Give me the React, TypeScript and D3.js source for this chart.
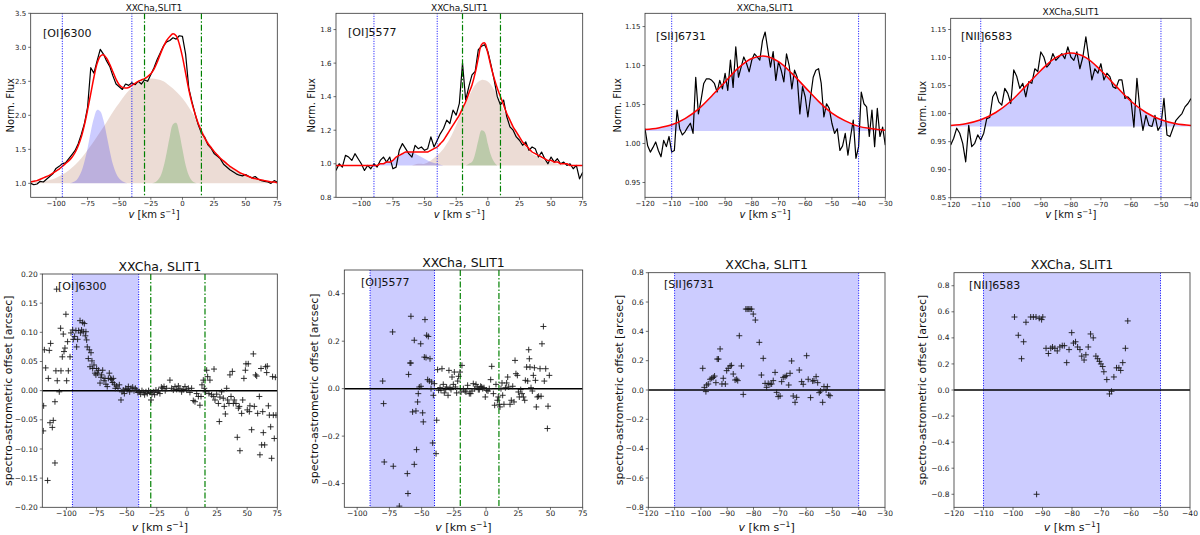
import * as d3 from "d3";

// ---------- top row: line profiles (normalised flux) ----------
const oi6300Vel = d3.range(-120, 75.01, 2.5);
const oi6300Flux = [
  1.0, 0.98, 0.99, 1.03, 1.02, 1.06, 1.1, 1.14, 1.22, 1.25,
  1.29, 1.3, 1.36, 1.42, 1.48, 1.58, 1.72, 1.88, 2.12, 2.7,
  2.62, 2.8, 2.97, 2.9, 2.8, 2.72, 2.58, 2.46, 2.42, 2.38,
  2.46, 2.44, 2.48, 2.45, 2.5, 2.46, 2.52, 2.5, 2.6, 2.7,
  2.82, 2.92, 3.02, 3.08, 3.1, 3.14, 3.12, 3.17, 3.16, 2.9,
  2.4, 2.2, 2.02, 1.86, 1.74, 1.68, 1.57, 1.52, 1.44, 1.4,
  1.36, 1.28, 1.24, 1.2, 1.17, 1.14, 1.12, 1.11, 1.13, 1.1,
  1.08, 1.1, 1.06, 1.04, 1.03, 1.02, 1.0, 1.04, 1.02,
];
const oi6300Fit = [
  1.02, 1.03, 1.04, 1.06, 1.08, 1.1, 1.12, 1.15, 1.18, 1.21,
  1.25, 1.29, 1.33, 1.38, 1.45, 1.55, 1.68, 1.86, 2.08, 2.32,
  2.56, 2.76, 2.87, 2.89, 2.84, 2.75, 2.64, 2.53, 2.45, 2.41,
  2.4, 2.41, 2.44, 2.47, 2.5, 2.52, 2.54, 2.57, 2.61, 2.68,
  2.78, 2.9, 3.01, 3.1, 3.16, 3.2, 3.17, 3.05, 2.86, 2.62,
  2.38, 2.18, 2.02, 1.88, 1.77, 1.67, 1.59, 1.53, 1.47, 1.42,
  1.37, 1.33, 1.29, 1.25, 1.22, 1.19, 1.16, 1.14, 1.12, 1.1,
  1.08, 1.07, 1.06, 1.05, 1.04, 1.03, 1.02, 1.02, 1.01,
];
const oi6300BroadVel = d3.range(-120, 75.01, 5);
const oi6300Broad = [
  1.01, 1.02, 1.03, 1.05, 1.08, 1.13, 1.19, 1.27, 1.37, 1.49,
  1.62, 1.76, 1.9, 2.05, 2.18, 2.31, 2.41, 2.48, 2.52, 2.54,
  2.53, 2.5, 2.43, 2.35, 2.25, 2.12, 1.97, 1.8, 1.63, 1.48,
  1.37, 1.29, 1.22, 1.17, 1.12, 1.09, 1.06, 1.04, 1.02, 1.01,
];
const oi6300BlueVel = d3.range(-90, -42.49, 2.5);
const oi6300Blue = [
  1.0, 1.01, 1.03, 1.08, 1.17, 1.32, 1.52, 1.76, 1.96, 2.08,
  2.06, 1.93, 1.71, 1.48, 1.28, 1.15, 1.07, 1.03, 1.01, 1.0,
];
const oi6300GreenVel = d3.range(-25, 15.01, 2.5);
const oi6300Green = [1.0, 1.01, 1.04, 1.1, 1.24, 1.45, 1.69, 1.87, 1.89, 1.74, 1.5, 1.27, 1.12, 1.04, 1.01, 1.0, 1.0];

const oi5577Vel = d3.range(-120, 75.01, 2.5);
const oi5577Flux = [
  0.96, 1.0, 0.98, 1.05, 1.04, 1.02, 1.06, 1.03, 1.0, 0.96,
  0.99, 0.97, 1.0, 0.98, 1.02, 1.04, 1.01, 1.04, 0.97, 0.98,
  1.08, 1.12, 1.09, 1.06, 1.04, 1.11, 1.09, 1.1, 1.08, 1.09,
  1.16, 1.1, 1.14, 1.18, 1.21, 1.26, 1.24, 1.32, 1.29, 1.36,
  1.6, 1.38, 1.46, 1.53, 1.55, 1.68, 1.7, 1.71, 1.67, 1.59,
  1.5, 1.4, 1.35, 1.38, 1.28, 1.22, 1.2, 1.16, 1.14, 1.11,
  1.13, 1.08, 1.1, 1.09, 1.04, 1.07, 1.03, 1.0, 1.04, 1.01,
  1.03, 1.0, 1.01, 0.99, 1.0, 0.97, 0.99, 0.91, 0.95,
];
const oi5577Fit = [
  0.99, 0.99, 0.99, 0.99, 0.99, 0.99, 0.99, 0.99, 0.99, 0.99,
  0.99, 0.99, 0.99, 0.99, 1.0, 1.0, 1.01, 1.01, 1.02, 1.04,
  1.05, 1.06, 1.07, 1.07, 1.07, 1.07, 1.07, 1.07, 1.07, 1.07,
  1.08, 1.09, 1.1, 1.12, 1.14, 1.17, 1.2, 1.23, 1.26, 1.29,
  1.33, 1.37, 1.42, 1.47, 1.54, 1.63, 1.71, 1.72, 1.66, 1.58,
  1.51, 1.45, 1.4, 1.35, 1.3, 1.26, 1.22, 1.19, 1.16, 1.13,
  1.11, 1.09, 1.07, 1.06, 1.05, 1.04, 1.03, 1.02, 1.02, 1.01,
  1.01, 1.0, 1.0, 1.0, 0.99, 0.99, 0.99, 0.99, 0.99,
];
const oi5577BroadVel = d3.range(-70, 60.01, 5);
const oi5577Broad = [
  0.99, 0.99, 0.99, 1.0, 1.0, 1.02, 1.05, 1.09, 1.15, 1.23,
  1.32, 1.4, 1.47, 1.5, 1.49, 1.44, 1.36, 1.28, 1.21, 1.15,
  1.1, 1.06, 1.04, 1.02, 1.01, 1.0, 0.99,
];
const oi5577BlueVel = d3.range(-100, -29.99, 5);
const oi5577Blue = [0.99, 0.99, 0.99, 1.0, 1.01, 1.02, 1.05, 1.07, 1.07, 1.05, 1.03, 1.01, 1.0, 0.99, 0.99];
const oi5577GreenVel = d3.range(-20, 10.01, 2.5);
const oi5577Green = [0.99, 0.99, 1.0, 1.01, 1.06, 1.14, 1.2, 1.19, 1.12, 1.05, 1.01, 0.99, 0.99];

const sii6731Vel = d3.range(-120, -29.99, 1);
const sii6731Flux = [
  1.019, 0.997, 0.989, 0.995, 1.002, 0.991, 0.983, 1.004, 0.996, 1.009,
  0.989, 0.991, 1.043, 1.019, 1.011, 1.015, 1.021, 1.026, 1.013, 1.085,
  1.038, 1.056, 1.077, 1.083, 1.083, 1.081, 1.077, 1.066, 1.081, 1.07,
  1.09, 1.068, 1.107, 1.072, 1.124, 1.085, 1.098, 1.111, 1.103, 1.092,
  1.107, 1.115, 1.111, 1.107, 1.132, 1.143, 1.12, 1.098, 1.118, 1.081,
  1.105, 1.094, 1.079, 1.115, 1.1, 1.07, 1.094, 1.085, 1.038, 1.073,
  1.06, 1.034, 1.06, 1.085, 1.094, 1.096, 1.077, 1.034, 1.051, 1.045,
  1.026, 1.013, 1.019, 0.991, 0.997, 1.013, 0.985, 1.009, 1.03, 0.981,
  0.996, 1.066, 1.051, 1.047, 1.009, 1.043, 0.996, 1.045, 1.009, 1.021,
  0.998,
];
const sii6731FitVel = d3.range(-120, -29.99, 5);
const sii6731Fit = [
  1.018, 1.02, 1.024, 1.032, 1.044, 1.061, 1.079, 1.097, 1.109, 1.112,
  1.105, 1.09, 1.072, 1.054, 1.039, 1.029, 1.022, 1.019, 1.017,
];
const sii6731Base = 1.016;

const nii6583Vel = d3.range(-120, -39.99, 1);
const nii6583Flux = [
  0.944, 0.956, 0.974, 0.965, 0.947, 0.914, 0.979, 0.941, 0.947, 0.962,
  0.953, 0.965, 0.991, 0.993, 1.03, 1.039, 1.021, 1.015, 1.045, 1.036,
  1.018, 1.078, 1.066, 1.045, 1.054, 1.03, 1.057, 1.054, 1.08, 1.075,
  1.11, 1.101, 1.083, 1.089, 1.107, 1.095, 1.101, 1.107, 1.098, 1.119,
  1.101, 1.095, 1.11, 1.08, 1.101, 1.137, 1.098, 1.06, 1.08, 1.072,
  1.089, 1.06, 1.072, 1.066, 1.048, 1.045, 1.06, 1.06, 1.027, 1.03,
  1.024, 0.976, 1.063, 1.006, 0.97, 0.997, 0.979, 0.977, 0.997, 0.97,
  0.979, 1.027, 0.962, 0.959, 0.974, 0.988, 0.994, 1.0, 1.012, 1.018,
  1.027,
];
const nii6583FitVel = d3.range(-120, -39.99, 5);
const nii6583Fit = [
  0.979, 0.982, 0.989, 1.002, 1.022, 1.049, 1.077, 1.1, 1.108, 1.1,
  1.077, 1.049, 1.022, 1.002, 0.989, 0.982, 0.979,
];
const nii6583Base = 0.977;

// ---------- bottom row: spectro-astrometric offsets [v, arcsec] ----------
const oi6300Offset = [
  [-118.3, 0.07], [-117.2, 0.039], [-118.9, -0.026], [-119.2, -0.069], [-115.6, -0.154], [-115.0, 0.021],
  [-113.1, 0.081], [-114.2, 0.069], [-113.6, -0.055], [-111.7, -0.063], [-110.9, -0.051], [-109.5, -0.019],
  [-109.5, -0.124], [-108.1, 0.174], [-108.7, 0.034], [-107.6, 0.017], [-105.9, -0.002], [-104.8, 0.107],
  [-104.5, 0.034], [-103.4, 0.058], [-102.6, 0.097], [-102.0, 0.067], [-101.2, 0.073], [-100.4, 0.131],
  [-99.8, 0.017], [-99.0, 0.084], [-98.4, 0.034], [-97.0, 0.058], [-96.2, 0.099], [-94.8, 0.104],
  [-94.3, 0.088], [-93.2, 0.093], [-92.1, 0.103], [-91.5, 0.075], [-90.7, 0.088], [-89.8, 0.103],
  [-88.7, 0.12], [-88.2, 0.099], [-87.4, 0.104], [-86.5, 0.117], [-86.0, 0.101], [-85.1, 0.115],
  [-84.3, 0.094], [-83.8, 0.101], [-83.2, 0.087], [-82.7, 0.075], [-81.8, 0.055], [-81.0, 0.07],
  [-80.4, 0.041], [-79.6, 0.065], [-78.8, 0.051], [-78.2, 0.038], [-77.1, 0.044], [-76.3, 0.03],
  [-75.5, 0.027], [-74.9, 0.038], [-74.1, 0.03], [-73.3, 0.035], [-72.1, 0.013], [-71.3, 0.023],
  [-70.8, 0.027], [-69.9, 0.035], [-68.8, 0.017], [-68.0, 0.021], [-67.2, 0.011], [-66.1, 0.007],
  [-65.2, 0.021], [-64.4, 0.03], [-63.3, 0.021], [-62.5, 0.019], [-61.6, 0.014], [-61.1, 0.021],
  [-60.2, 0.011], [-59.4, 0.004], [-58.3, 0.008], [-57.2, 0.004], [-56.1, 0.01], [-54.7, -0.016],
  [-53.9, -0.002], [-52.8, 0.001], [-51.9, -0.005], [-50.8, 0.004], [-49.7, 0.002], [-48.6, 0.007],
  [-47.5, -0.002], [-46.4, 0.004], [-45.0, 0.006], [-43.9, 0.0], [-42.8, 0.004], [-41.7, 0.001],
  [-40.6, -0.003], [-39.5, -0.002], [-38.4, -0.006], [-37.3, 0.0], [-36.2, -0.003], [-35.1, -0.007],
  [-34.0, -0.002], [-32.9, -0.005], [-31.8, 0.0], [-30.6, -0.003], [-29.8, -0.016], [-29.0, -0.006],
  [-27.9, -0.002], [-26.8, -0.007], [-25.7, 0.001], [-24.6, -0.003], [-23.5, 0.0], [-22.4, -0.005],
  [-21.2, 0.006], [-20.1, 0.004], [-19.0, 0.007], [-18.0, 0.0], [-16.8, 0.004], [-14.1, 0.018],
  [-12.7, 0.004], [-11.3, 0.001], [-9.9, 0.007], [-8.5, 0.002], [-7.1, 0.008], [-5.8, 0.004],
  [-4.4, -0.002], [-3.0, 0.002], [-1.6, 0.007], [-0.2, 0.001], [1.2, 0.004], [2.5, -0.003],
  [3.9, 0.004], [5.3, -0.017], [6.7, -0.019], [8.1, -0.005], [9.5, -0.01], [10.8, -0.025],
  [11.7, -0.01], [12.5, 0.01], [13.6, 0.018], [14.4, 0.004], [15.5, -0.002], [16.4, 0.035],
  [17.2, 0.024], [18.3, -0.005], [19.1, 0.018], [20.5, -0.007], [21.9, -0.01], [22.5, 0.037],
  [23.3, -0.016], [24.7, -0.006], [26.1, -0.022], [26.9, -0.053], [27.4, -0.011], [28.8, -0.002],
  [30.2, -0.013], [31.0, -0.027], [31.9, -0.04], [33.0, 0.004], [33.8, -0.016], [34.9, -0.022],
  [35.7, 0.027], [36.6, -0.01], [37.7, 0.033], [38.5, -0.022], [39.3, -0.016], [40.7, -0.022],
  [41.8, -0.08], [42.7, -0.03], [43.5, -0.027], [44.0, -0.103], [45.4, -0.039], [46.3, -0.016],
  [47.3, 0.021], [48.5, 0.035], [49.0, 0.046], [50.1, -0.033], [50.9, 0.046], [51.8, -0.036],
  [52.3, -0.026], [53.7, -0.067], [55.1, 0.063], [55.9, -0.027], [57.0, 0.027], [57.9, 0.025],
  [58.7, -0.039], [60.1, -0.01], [60.6, -0.11], [61.5, 0.038], [62.0, -0.093], [62.9, -0.036],
  [63.4, -0.072], [64.5, -0.093], [65.3, 0.041], [66.2, 0.031], [66.7, 0.042], [67.6, -0.026],
  [68.4, -0.042], [69.5, -0.062], [70.3, -0.116], [71.1, 0.024], [71.7, -0.042], [72.5, -0.082],
  [73.4, 0.023], [73.9, -0.042],
];
const oi5577Offset = [
  [-80.2, 0.032], [-79.5, -0.063], [-79.0, -0.309], [-72.5, 0.239], [-72.0, -0.327], [-61.1, -0.358],
  [-60.6, -0.442], [-67.3, -0.495], [-60.1, 0.06], [-59.0, 0.108], [-58.3, 0.108], [-58.3, 0.305],
  [-57.0, -0.098], [-55.7, 0.204], [-55.7, -0.319], [-54.4, -0.094], [-53.9, -0.257], [-53.1, -0.056],
  [-52.6, -0.021], [-51.8, 0.007], [-50.7, 0.189], [-50.5, 0.01], [-49.2, -0.102], [-48.7, -0.14],
  [-47.9, 0.133], [-47.4, 0.291], [-46.6, 0.131], [-46.1, 0.225], [-45.3, 0.038], [-44.8, 0.22],
  [-44.0, 0.032], [-43.5, 0.126], [-42.7, 0.0], [-42.2, 0.028], [-41.4, -0.229], [-40.9, -0.028],
  [-40.1, 0.021], [-38.8, -0.274], [-38.3, -0.133], [-37.6, 0.08], [-36.8, -0.007], [-35.7, 0.004],
  [-35.0, -0.007], [-34.2, 0.084], [-33.2, 0.018], [-32.4, -0.018], [-31.3, -0.004], [-30.6, 0.007],
  [-29.5, -0.028], [-28.8, 0.077], [-28.0, 0.004], [-27.2, -0.004], [-26.4, 0.049], [-25.4, 0.018],
  [-24.6, 0.07], [-23.8, 0.007], [-22.8, -0.018], [-22.0, 0.032], [-21.3, 0.052], [-20.2, 0.07],
  [-19.4, -0.014], [-18.7, 0.098], [-17.6, 0.0], [-16.3, -0.01], [-15.6, -0.014], [-14.3, 0.014],
  [-13.0, -0.021], [-11.9, -0.021], [-10.9, -0.01], [-9.9, 0.021], [-8.8, 0.0], [-7.8, 0.018],
  [-6.8, 0.007], [-6.0, -0.004], [-5.2, -0.004], [-4.2, 0.01], [-3.4, 0.007], [-2.6, 0.0],
  [-1.6, 0.004], [-0.6, -0.035], [0.5, -0.007], [1.5, -0.01], [2.5, 0.0], [3.6, 0.038],
  [4.4, 0.094], [5.7, -0.021], [6.7, -0.07], [7.7, 0.018], [8.8, -0.049], [9.5, -0.035],
  [10.3, -0.066], [10.8, -0.077], [11.6, 0.0], [12.4, 0.024], [12.9, -0.028], [13.9, -0.066],
  [15.0, 0.004], [16.0, 0.024], [16.8, 0.049], [17.6, 0.007], [18.6, -0.066], [19.6, -0.049],
  [20.7, 0.01], [21.7, -0.056], [22.5, 0.119], [23.2, 0.063], [24.3, 0.056], [25.1, -0.014],
  [25.8, -0.035], [26.9, -0.004], [27.9, -0.021], [29.0, -0.035], [30.0, -0.049], [30.5, 0.035],
  [31.5, 0.091], [32.3, 0.032], [33.1, 0.164], [33.6, 0.126], [34.1, 0.091], [34.9, 0.004],
  [35.9, -0.01], [36.7, 0.056], [37.5, 0.088], [38.3, 0.035], [39.0, -0.077], [39.8, -0.035],
  [40.8, -0.032], [41.9, 0.084], [42.7, -0.032], [43.4, 0.189], [44.5, 0.262], [45.2, 0.032],
  [46.3, 0.084], [47.6, -0.168], [48.1, -0.074], [49.1, 0.056],
];
const sii6731Offset = [
  [-99.3, 0.148], [-98.7, 0.018], [-98.1, -0.011], [-97.8, 0.034], [-97.2, 0.041], [-96.5, 0.073],
  [-95.9, 0.08], [-95.3, 0.086], [-94.8, 0.095], [-94.3, 0.05], [-93.8, 0.211], [-93.3, 0.211],
  [-92.7, 0.28], [-92.0, 0.041], [-91.5, 0.08], [-90.7, 0.041], [-90.2, 0.132], [-89.6, 0.148],
  [-88.9, 0.164], [-88.4, 0.168], [-87.7, 0.109], [-87.0, 0.068], [-86.4, 0.073], [-86.0, 0.064],
  [-85.4, 0.37], [-84.6, 0.164], [-83.9, -0.03], [-82.9, 0.552], [-82.4, 0.552], [-81.8, 0.552],
  [-81.3, 0.552], [-80.7, 0.552], [-80.1, 0.518], [-79.3, 0.477], [-77.8, 0.325], [-77.0, 0.102],
  [-76.3, 0.216], [-75.6, 0.045], [-75.0, 0.018], [-74.4, 0.045], [-73.7, 0.039], [-73.1, 0.041],
  [-72.5, 0.064], [-71.8, 0.12], [-71.2, -0.016], [-70.6, -0.045], [-69.9, -0.041], [-69.3, 0.057],
  [-68.7, 0.086], [-68.0, 0.091], [-67.4, 0.098], [-66.6, 0.034], [-66.1, 0.114], [-65.5, 0.198],
  [-64.9, -0.041], [-64.2, -0.084], [-63.6, -0.05], [-62.6, 0.136], [-61.7, 0.057], [-61.1, 0.039],
  [-59.8, 0.234], [-59.2, 0.073], [-58.3, -0.052], [-57.5, 0.061], [-57.0, 0.064], [-56.2, 0.091],
  [-55.6, 0.05], [-55.0, -0.018], [-54.5, -0.007], [-53.7, -0.084], [-53.2, 0.023], [-52.4, 0.0],
  [-51.9, 0.023], [-51.4, -0.034], [-50.9, -0.039],
];
const nii6583Offset = [
  [-99.5, 0.56], [-98.2, 0.42], [-97.1, 0.24], [-96.4, 0.37], [-95.6, 0.52], [-94.0, 0.56],
  [-93.1, 0.56], [-92.2, 0.56], [-91.1, 0.55], [-90.3, 0.54], [-89.9, 0.56], [-88.8, 0.32],
  [-88.0, 0.28], [-87.2, 0.32], [-86.6, 0.33], [-85.8, 0.32], [-85.0, 0.3], [-84.1, 0.33],
  [-83.3, 0.34], [-82.6, 0.34], [-81.8, 0.21], [-81.0, 0.31], [-80.1, 0.44], [-79.5, 0.36],
  [-78.8, 0.37], [-78.1, 0.33], [-77.3, 0.31], [-76.7, 0.26], [-75.9, 0.23], [-75.3, 0.27],
  [-74.5, 0.33], [-73.7, 0.43], [-72.8, 0.4], [-71.9, 0.26], [-71.3, 0.24], [-70.7, 0.22],
  [-70.2, 0.2], [-69.6, 0.18], [-69.2, 0.14], [-68.2, 0.08], [-67.3, -0.03], [-66.6, -0.01],
  [-65.8, 0.1], [-64.9, 0.17], [-64.1, 0.17], [-63.5, 0.15], [-62.8, 0.21], [-61.9, 0.32],
  [-61.1, 0.53], [-92.0, -0.8],
];

// ---------- style ----------
const FONT = "'DejaVu Sans', sans-serif";
const AXIS = "#333";
const BLUE_FILL = "rgba(0,0,255,0.2)";
const BROWN_FILL = "rgba(160,82,45,0.2)";
const GREEN_FILL = "rgba(0,128,0,0.2)";
const DOTTED = "1,1.5";
const DASHDOT = "6,2,1.5,2";

const pairs = (vel, val) => vel.map((v, i) => [v, val[i]]);

function Axes({ cfg, draw }) {
  const { box } = cfg;
  const x = d3.scaleLinear(cfg.xDomain, [box.l, box.r]);
  const y = d3.scaleLinear(cfg.yDomain, [box.b, box.t]);
  const cx = (box.l + box.r) / 2;
  const cy = (box.t + box.b) / 2;
  const xf = d3.format("d");
  const yf = d3.format(cfg.yFormat);
  const xs = cfg.xlabelSize;
  return (
    <g>
      <clipPath id={cfg.id}>
        <rect x={box.l} y={box.t} width={box.r - box.l} height={box.b - box.t} />
      </clipPath>
      <g clipPath={`url(#${cfg.id})`}>{draw(x, y)}</g>
      <rect x={box.l} y={box.t} width={box.r - box.l} height={box.b - box.t} fill="none" stroke={AXIS} strokeWidth={0.8} />

      {cfg.xTicks.map((t) => (
        <g key={"x" + t}>
          <line x1={x(t)} x2={x(t)} y1={box.b} y2={box.b + 2.5} stroke={AXIS} strokeWidth={0.7} />
          <text x={x(t)} y={box.b + 9} textAnchor="middle" fontSize={cfg.tick} fill="#222">
            {xf(t)}
          </text>
        </g>
      ))}
      {cfg.yTicks.map((t) => (
        <g key={"y" + t}>
          <line x1={box.l - 2.5} x2={box.l} y1={y(t)} y2={y(t)} stroke={AXIS} strokeWidth={0.7} />
          <text x={box.l - 4.5} y={y(t)} dy="0.35em" textAnchor="end" fontSize={cfg.tick} fill="#222">
            {yf(t)}
          </text>
        </g>
      ))}

      {/* title, line name, axis labels */}
      <text x={cx} y={cfg.titleY} textAnchor="middle" fontSize={cfg.titleSize} fill="#111">
        {cfg.title}
      </text>
      <text x={cfg.nameAt[0]} y={cfg.nameAt[1]} fontSize={11} fill="#111">
        {cfg.name}
      </text>
      <text
        transform={`translate(${cfg.ylabelX},${cy}) rotate(-90)`}
        dy="0.35em"
        textAnchor="middle"
        fontSize={cfg.ylabelSize}
        fill="#111"
      >
        {cfg.ylabel}
      </text>
      <text x={cx} y={cfg.xlabelY} textAnchor="middle" fontSize={xs} fill="#111">
        <tspan fontStyle="italic">v</tspan> [km s
        <tspan dy={-xs * 0.4} fontSize={xs * 0.7}>
          −1
        </tspan>
        <tspan dy={xs * 0.4}>]</tspan>
      </text>
    </g>
  );
}

function ProfilePanel({ cfg, vel, flux, fitVel, fit, comps, blue, green }) {
  return (
    <Axes
      cfg={cfg}
      draw={(x, y) => {
        const area = (base) =>
          d3
            .area()
            .x((d) => x(d[0]))
            .y0(y(base))
            .y1((d) => y(d[1]))
            .curve(d3.curveCatmullRom);
        const smooth = d3.line().x((d) => x(d[0])).y((d) => y(d[1])).curve(d3.curveCatmullRom);
        const raw = d3.line().x((d) => x(d[0])).y((d) => y(d[1]));
        return (
          <g>
            {comps.map((c, i) => (
              <path key={i} d={area(c.base)(pairs(c.vel, c.val))} fill={c.fill} stroke="none" />
            ))}
            <path d={raw(pairs(vel, flux))} fill="none" stroke="#000" strokeWidth={1.2} strokeLinejoin="round" />
            <path d={smooth(pairs(fitVel, fit))} fill="none" stroke="#f00" strokeWidth={1.5} />
            {blue.map((v) => (
              <line key={"b" + v} x1={x(v)} x2={x(v)} y1={cfg.box.t} y2={cfg.box.b} stroke="#00f" strokeWidth={1} strokeDasharray={DOTTED} />
            ))}
            {green.map((v) => (
              <line key={"g" + v} x1={x(v)} x2={x(v)} y1={cfg.box.t} y2={cfg.box.b} stroke="#008000" strokeWidth={1.2} strokeDasharray={DASHDOT} />
            ))}
          </g>
        );
      }}
    />
  );
}

function OffsetPanel({ cfg, points, span, green }) {
  return (
    <Axes
      cfg={cfg}
      draw={(x, y) => (
        <g>
          <rect x={x(span[0])} y={cfg.box.t} width={x(span[1]) - x(span[0])} height={cfg.box.b - cfg.box.t} fill={BLUE_FILL} />
          {span.map((v) => (
            <line key={"b" + v} x1={x(v)} x2={x(v)} y1={cfg.box.t} y2={cfg.box.b} stroke="#00f" strokeWidth={1} strokeDasharray={DOTTED} />
          ))}
          {green.map((v) => (
            <line key={"g" + v} x1={x(v)} x2={x(v)} y1={cfg.box.t} y2={cfg.box.b} stroke="#008000" strokeWidth={1.2} strokeDasharray={DASHDOT} />
          ))}
          <line x1={cfg.box.l} x2={cfg.box.r} y1={y(0)} y2={y(0)} stroke="#000" strokeWidth={1.5} />
          <path
            d={points.map(([v, o]) => `M${x(v) - 3},${y(o)}h6M${x(v)},${y(o) - 3}v6`).join("")}
            stroke="#1a1a1a"
            strokeWidth={0.9}
            fill="none"
          />
        </g>
      )}
    />
  );
}

const topCommon = { tick: 7, titleSize: 9, title: "XXCha,SLIT1", ylabel: "Norm. Flux", ylabelSize: 10, xlabelY: 217.5, xlabelSize: 10 };
const botCommon = {
  tick: 7.5,
  titleSize: 12.5,
  title: "XXCha, SLIT1",
  ylabel: "spectro-astrometric offset [arcsec]",
  ylabelSize: 11,
  xlabelY: 531,
  xlabelSize: 11,
};
const wideTicks = [-100, -75, -50, -25, 0, 25, 50, 75];

export default function App() {
  return (
    <svg width={1200} height={535} style={{ position: "absolute", left: 0, top: 0 }} fontFamily={FONT}>
      <rect width={1200} height={535} fill="#fff" />

      <ProfilePanel
        cfg={{
          ...topCommon,
          id: "p1",
          box: { l: 30.7, r: 277.3, t: 13.3, b: 197.3 },
          xDomain: [-120, 75],
          yDomain: [0.795, 3.5],
          xTicks: wideTicks,
          yTicks: [1, 1.5, 2, 2.5, 3, 3.5],
          yFormat: ".1f",
          titleY: 10.5,
          name: "[OI]6300",
          nameAt: [43, 36.5],
          ylabelX: 10,
        }}
        vel={oi6300Vel}
        flux={oi6300Flux}
        fitVel={oi6300Vel}
        fit={oi6300Fit}
        comps={[
          { vel: oi6300BroadVel, val: oi6300Broad, base: 1.0, fill: BROWN_FILL },
          { vel: oi6300BlueVel, val: oi6300Blue, base: 1.0, fill: BLUE_FILL },
          { vel: oi6300GreenVel, val: oi6300Green, base: 1.0, fill: GREEN_FILL },
        ]}
        blue={[-95, -40]}
        green={[-30, 15]}
      />
      <ProfilePanel
        cfg={{
          ...topCommon,
          id: "p2",
          box: { l: 336, r: 582.7, t: 13.3, b: 197.3 },
          xDomain: [-120, 75],
          yDomain: [0.8, 1.897],
          xTicks: wideTicks,
          yTicks: [0.8, 1.0, 1.2, 1.4, 1.6, 1.8],
          yFormat: ".1f",
          titleY: 10.5,
          name: "[OI]5577",
          nameAt: [348, 36],
          ylabelX: 311,
        }}
        vel={oi5577Vel}
        flux={oi5577Flux}
        fitVel={oi5577Vel}
        fit={oi5577Fit}
        comps={[
          { vel: oi5577BroadVel, val: oi5577Broad, base: 0.99, fill: BROWN_FILL },
          { vel: oi5577BlueVel, val: oi5577Blue, base: 0.99, fill: BLUE_FILL },
          { vel: oi5577GreenVel, val: oi5577Green, base: 0.99, fill: GREEN_FILL },
        ]}
        blue={[-90, -40]}
        green={[-20, 10]}
      />
      <ProfilePanel
        cfg={{
          ...topCommon,
          id: "p3",
          box: { l: 645, r: 885.3, t: 13.3, b: 197.3 },
          xDomain: [-120, -30],
          yDomain: [0.931, 1.167],
          xTicks: [-120, -110, -100, -90, -80, -70, -60, -50, -40, -30],
          yTicks: [0.95, 1.0, 1.05, 1.1, 1.15],
          yFormat: ".2f",
          titleY: 10.5,
          name: "[SII]6731",
          nameAt: [656, 40],
          ylabelX: 617,
        }}
        vel={sii6731Vel}
        flux={sii6731Flux}
        fitVel={sii6731FitVel}
        fit={sii6731Fit}
        comps={[{ vel: sii6731FitVel, val: sii6731Fit, base: sii6731Base, fill: BLUE_FILL }]}
        blue={[-110, -40]}
        green={[]}
      />
      <ProfilePanel
        cfg={{
          ...topCommon,
          id: "p4",
          box: { l: 950.7, r: 1191, t: 18.3, b: 197.7 },
          xDomain: [-120, -40],
          yDomain: [0.85, 1.17],
          xTicks: [-120, -110, -100, -90, -80, -70, -60, -50, -40],
          yTicks: [0.85, 0.9, 0.95, 1.0, 1.05, 1.1, 1.15],
          yFormat: ".2f",
          titleY: 15,
          name: "[NII]6583",
          nameAt: [961, 40],
          ylabelX: 922,
        }}
        vel={nii6583Vel}
        flux={nii6583Flux}
        fitVel={nii6583FitVel}
        fit={nii6583Fit}
        comps={[{ vel: nii6583FitVel, val: nii6583Fit, base: nii6583Base, fill: BLUE_FILL }]}
        blue={[-110, -50]}
        green={[]}
      />

      <OffsetPanel
        cfg={{
          ...botCommon,
          id: "p5",
          box: { l: 42.3, r: 277.3, t: 274, b: 507.3 },
          xDomain: [-120, 75],
          yDomain: [-0.2, 0.2],
          xTicks: wideTicks,
          yTicks: [-0.2, -0.15, -0.1, -0.05, 0, 0.05, 0.1, 0.15, 0.2],
          yFormat: ".2f",
          titleY: 270.5,
          name: "[OI]6300",
          nameAt: [58, 289.5],
          ylabelX: 8.5,
        }}
        points={oi6300Offset}
        span={[-95, -40]}
        green={[-30, 15]}
      />
      <OffsetPanel
        cfg={{
          ...botCommon,
          id: "p6",
          box: { l: 344.3, r: 582.7, t: 270, b: 507.3 },
          xDomain: [-110, 75],
          yDomain: [-0.5, 0.5],
          xTicks: wideTicks,
          yTicks: [-0.4, -0.2, 0, 0.2, 0.4],
          yFormat: ".1f",
          titleY: 266.5,
          name: "[OI]5577",
          nameAt: [361, 286],
          ylabelX: 314,
        }}
        points={oi5577Offset}
        span={[-90, -40]}
        green={[-20, 10]}
      />
      <OffsetPanel
        cfg={{
          ...botCommon,
          id: "p7",
          box: { l: 648.3, r: 885, t: 272.7, b: 507.3 },
          xDomain: [-120, -30],
          yDomain: [-0.8, 0.8],
          xTicks: [-120, -110, -100, -90, -80, -70, -60, -50, -40, -30],
          yTicks: [-0.8, -0.6, -0.4, -0.2, 0, 0.2, 0.4, 0.6, 0.8],
          yFormat: ".1f",
          titleY: 269,
          name: "[SII]6731",
          nameAt: [664, 288],
          ylabelX: 619,
        }}
        points={sii6731Offset}
        span={[-110, -40]}
        green={[]}
      />
      <OffsetPanel
        cfg={{
          ...botCommon,
          id: "p8",
          box: { l: 954, r: 1190, t: 272.7, b: 507.3 },
          xDomain: [-120, -40],
          yDomain: [-0.9, 0.9],
          xTicks: [-120, -110, -100, -90, -80, -70, -60, -50, -40],
          yTicks: [-0.8, -0.6, -0.4, -0.2, 0, 0.2, 0.4, 0.6, 0.8],
          yFormat: ".1f",
          titleY: 269,
          name: "[NII]6583",
          nameAt: [969, 289],
          ylabelX: 922,
        }}
        points={nii6583Offset}
        span={[-110, -50]}
        green={[]}
      />
    </svg>
  );
}
